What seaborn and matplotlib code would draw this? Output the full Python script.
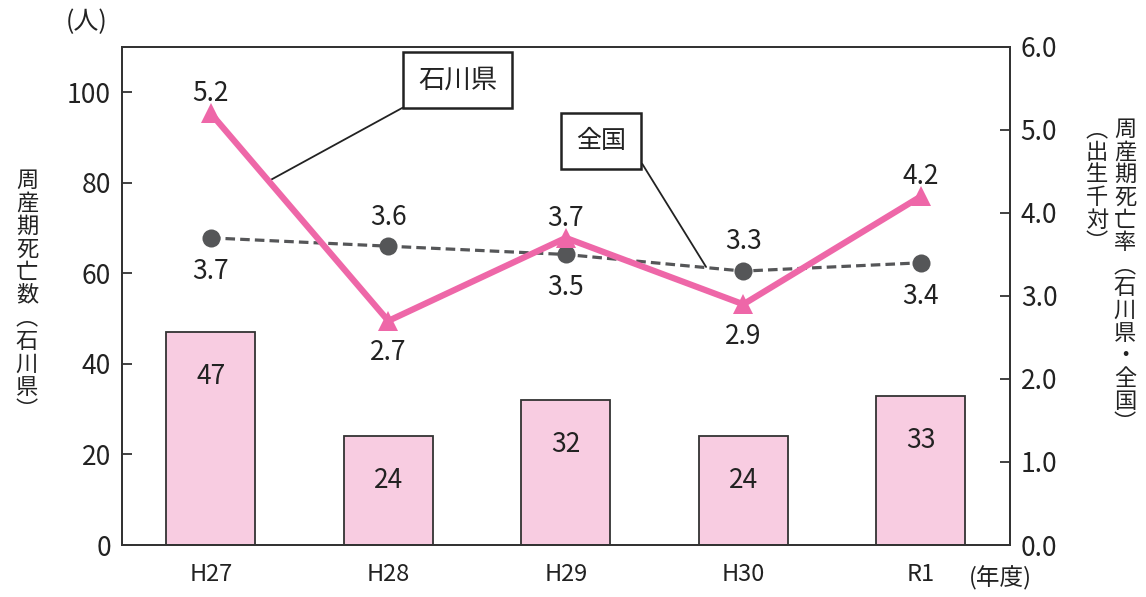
import numpy as np
import pandas as pd
import matplotlib
matplotlib.use("Agg")
import matplotlib.pyplot as plt
import seaborn as sns

years = ["H27", "H28", "H29", "H30", "R1"]
deaths_ishikawa = [47, 24, 32, 24, 33]
rate_ishikawa = [5.2, 2.7, 3.7, 2.9, 4.2]
rate_national = [3.7, 3.6, 3.5, 3.3, 3.4]
ishikawa_label_pos = ["above", "below", "above", "below", "above"]
national_label_pos = ["below", "above", "below", "above", "below"]

sns.set_theme(style="white")
FONT = ["Noto Sans CJK JP", "DejaVu Sans"]
plt.rcParams["font.family"] = FONT
plt.rcParams["axes.unicode_minus"] = False

PINK = "#EE67A8"
BAR_FILL = "#F8CCE1"
GRAY = "#555658"
TXT = "#222222"

fig = plt.figure(figsize=(11.46, 5.97), dpi=100)
ax = fig.add_axes([0.1065, 0.0871, 0.7745, 0.8342])

df = pd.DataFrame({"year": years, "deaths": deaths_ishikawa,
                   "rate_i": rate_ishikawa, "rate_n": rate_national})
df["pos"] = np.arange(len(years))

sns.barplot(data=df, x="year", y="deaths", ax=ax, color=BAR_FILL,
            saturation=1, width=0.5, edgecolor="#333333", linewidth=1.3)
ax.set_xlim(-0.5, len(years) - 0.5)
ax.set_ylim(0, 110)
ax.set_yticks([0, 20, 40, 60, 80, 100])
ax.set_xlabel("")
ax.set_ylabel("")
for i, v in enumerate(deaths_ishikawa):
    ax.annotate(str(v), (i, v), xytext=(0, -32), textcoords="offset points",
                ha="center", va="center", fontsize=19, color=TXT)

ax2 = ax.twinx()
sns.lineplot(data=df, x="pos", y="rate_n", ax=ax2, color=GRAY, lw=2.3,
             linestyle=(0, (3, 1.6)), marker="o", markersize=13,
             markeredgewidth=0, zorder=3)
sns.lineplot(data=df, x="pos", y="rate_i", ax=ax2, color=PINK, lw=4.5,
             marker="^", markersize=15, markeredgewidth=0, zorder=4)
ax2.set_ylim(0, 6.0)
ax2.set_yticks(np.arange(0, 6.01, 1.0))
ax2.set_yticklabels([f"{t:.1f}" for t in np.arange(0, 6.01, 1.0)])
ax2.set_xlim(-0.5, len(years) - 0.5)
ax2.set_xlabel("")
ax2.set_ylabel("")

for i, (v, p) in enumerate(zip(rate_ishikawa, ishikawa_label_pos)):
    dy = 14 if p == "above" else -23
    ax2.annotate(f"{v:.1f}", (i, v), xytext=(0, dy), textcoords="offset points",
                 ha="center", va="center", fontsize=19, color=TXT)
for i, (v, p) in enumerate(zip(rate_national, national_label_pos)):
    dy = 21 if p == "above" else -24
    ax2.annotate(f"{v:.1f}", (i, v), xytext=(0, dy), textcoords="offset points",
                 ha="center", va="center", fontsize=19, color=TXT)

for a in (ax, ax2):
    for s in a.spines.values():
        s.set_color("#333333")
        s.set_linewidth(1.3)
    a.grid(False)

ax.tick_params(axis="y", direction="in", length=7, width=1.3, color="#333333",
               labelsize=19, labelcolor=TXT, pad=8)
ax.tick_params(axis="x", length=0, labelsize=17, labelcolor=TXT, pad=13)
ax2.tick_params(axis="y", direction="in", length=7, width=1.3, color="#333333",
                labelsize=19, labelcolor=TXT, pad=8)

# callouts
ax2.annotate("石川県", xy=(0.33, 4.39), xycoords="data",
             xytext=(1.39, 5.6), textcoords="data", ha="center", va="center",
             fontsize=19, color=TXT,
             bbox=dict(boxstyle="square,pad=0.55", fc="white", ec="#222222", lw=1.8),
             arrowprops=dict(arrowstyle="-", color="#222222", lw=1.3,
                             shrinkA=0, shrinkB=0, relpos=(0.13, 0.0)))
ax2.annotate("全国", xy=(2.79, 3.35), xycoords="data",
             xytext=(2.2, 4.87), textcoords="data", ha="center", va="center",
             fontsize=18, color=TXT,
             bbox=dict(boxstyle="square,pad=0.6", fc="white", ec="#222222", lw=1.8),
             arrowprops=dict(arrowstyle="-", color="#222222", lw=1.3,
                             shrinkA=0, shrinkB=0, relpos=(1.0, 0.6)))

# axis unit labels
fig.text(87 / 1146, 1 - 22 / 597, "(人)", ha="center", va="center",
         fontsize=18, color=TXT)
fig.text(1000 / 1146, 1 - 578 / 597, "(年度)", ha="center", va="center",
         fontsize=17, color=TXT)

# vertical axis titles
left_title = "周産期死亡数︵石川県︶"
fig.text(27 / 1146, 1 - 295 / 597, "\n".join(left_title), ha="center",
         va="center", fontsize=16, color=TXT, linespacing=1.0)
right_title = "周産期死亡率︵石川県・全国︶"
fig.text(1125 / 1146, 1 - 118 / 597, "\n".join(right_title), ha="center",
         va="top", fontsize=16, color=TXT, linespacing=0.98)
right_sub = "︵出生千対︶"
fig.text(1097 / 1146, 1 - 118 / 597, "\n".join(right_sub), ha="center",
         va="top", fontsize=16, color=TXT, linespacing=0.98)

fig.savefig("out.png", dpi=100)
